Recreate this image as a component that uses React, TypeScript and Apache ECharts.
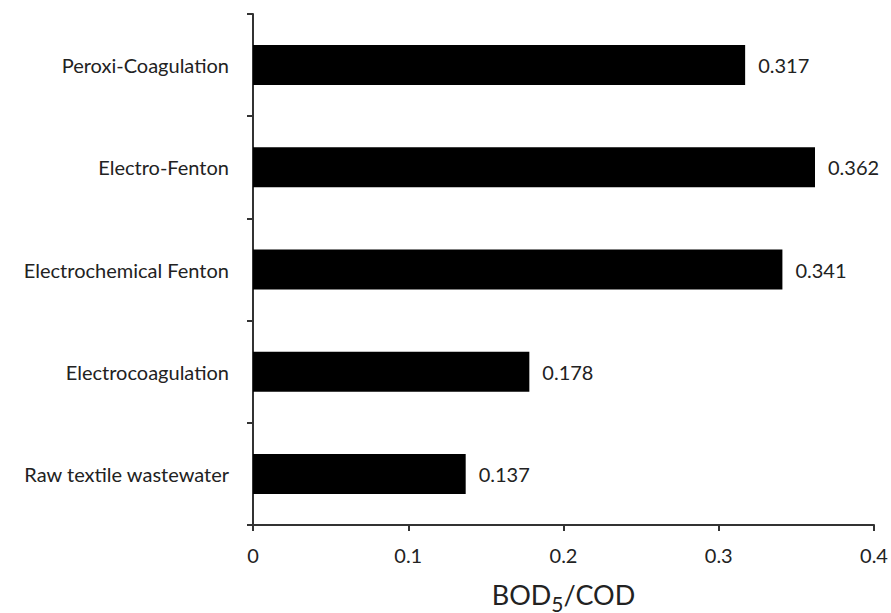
import React, { useEffect, useRef } from "react";
import * as echarts from "echarts";

const categories = [
  "Peroxi-Coagulation",
  "Electro-Fenton",
  "Electrochemical Fenton",
  "Electrocoagulation",
  "Raw textile wastewater",
];
const values = [0.317, 0.362, 0.341, 0.178, 0.137];
const xTicks = [0, 0.1, 0.2, 0.3, 0.4];

const FONT = "Lato";

export default function App() {
  const ref = useRef<HTMLDivElement>(null);
  useEffect(() => {
    const chart = echarts.init(ref.current!, null, { renderer: "svg" });
    const axisColor = "#333";
    chart.setOption({
      animation: false,
      backgroundColor: "#fff",
      grid: { left: 253, right: 17, top: 14, bottom: 88, containLabel: false, outerBoundsMode: "none" },
      xAxis: {
        type: "value",
        min: 0,
        max: 0.4,
        interval: 0.1,
        splitLine: { show: false },
        axisLine: { show: true, lineStyle: { color: axisColor, width: 2 } },
        axisTick: { show: true, length: 6, lineStyle: { color: axisColor, width: 2 } },
        axisLabel: {
          margin: 20,
          color: "#222",
          fontFamily: FONT,
          fontSize: 20,
          formatter: (v: number) => {
            const i = xTicks.findIndex((t) => Math.abs(t - v) < 1e-9);
            return i >= 0 ? String(xTicks[i]) : "";
          },
        },
        name: "{a|BOD}{b|5}{a|/COD}",
        nameLocation: "middle",
        nameGap: 56,
        nameTextStyle: {
          rich: {
            a: { fontFamily: FONT, fontSize: 27, color: "#222", lineHeight: 30, verticalAlign: "top" },
            b: { fontFamily: FONT, fontSize: 21, color: "#222", lineHeight: 33, verticalAlign: "bottom" },
          },
        },
      },
      yAxis: {
        type: "category",
        inverse: true,
        data: categories,
        axisLine: { show: true, lineStyle: { color: axisColor, width: 2 } },
        axisTick: { show: true, length: 6, alignWithLabel: false, lineStyle: { color: axisColor, width: 2 } },
        axisLabel: { margin: 24, color: "#222", fontFamily: FONT, fontSize: 20 },
        splitLine: { show: false },
      },
      series: [
        {
          type: "bar",
          data: values,
          barWidth: 40,
          itemStyle: { color: "#000" },
          label: {
            show: true,
            position: "right",
            distance: 13,
            color: "#222",
            fontFamily: FONT,
            fontSize: 20,
            formatter: (p: any) => values[p.dataIndex].toFixed(3),
          },
        },
      ],
    });
    return () => chart.dispose();
  }, []);
  return (
    <div
      ref={ref}
      style={{ position: "fixed", left: 0, top: 0, width: 891, height: 613, background: "#fff" }}
    />
  );
}
